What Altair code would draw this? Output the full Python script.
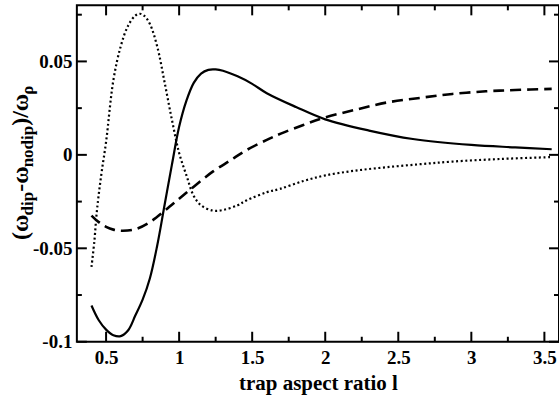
import altair as alt
import pandas as pd

# Frequency shift of the three modes versus trap aspect ratio
solid_x = [0.40, 0.45, 0.50, 0.55, 0.60, 0.65, 0.70, 0.75, 0.80, 0.85, 0.90, 0.95,
           1.00, 1.05, 1.10, 1.15, 1.20, 1.25, 1.30, 1.40, 1.50, 1.60, 1.80, 2.00,
           2.30, 2.60, 3.00, 3.30, 3.55]
solid_y = [-0.0806, -0.0885, -0.0935, -0.0965, -0.0970, -0.0940, -0.0860, -0.0775, -0.0660, -0.0485,
           -0.0270, -0.0055, 0.0150, 0.029, 0.0385, 0.0435, 0.0455, 0.0457, 0.0450, 0.042,
           0.038, 0.033, 0.0256, 0.019, 0.013, 0.0085, 0.0053, 0.004, 0.003]

dashed_x = [0.40, 0.45, 0.50, 0.55, 0.61, 0.70, 0.80, 0.90, 1.00, 1.10, 1.23, 1.35,
            1.46, 1.60, 1.70, 1.85, 1.98, 2.20, 2.42, 2.65, 2.87, 3.10, 3.30, 3.55]
dashed_y = [-0.0325, -0.036, -0.0385, -0.040, -0.0406, -0.0398, -0.036, -0.030, -0.0235,
            -0.017, -0.009, -0.003, 0.0025, 0.008, 0.0115, 0.016, 0.0196, 0.024, 0.028,
            0.0305, 0.0326, 0.034, 0.0347, 0.0353]

dotted_x = [0.40, 0.42, 0.434, 0.45, 0.47, 0.50, 0.55, 0.60, 0.65, 0.70, 0.73, 0.76,
            0.80, 0.85, 0.90, 0.95, 1.00, 1.05, 1.10, 1.15, 1.23, 1.30, 1.40, 1.46,
            1.60, 1.69, 1.85, 2.00, 2.20, 2.42, 2.65, 2.87, 3.20, 3.55]
dotted_y = [-0.060, -0.046, -0.0325, -0.021, -0.009, 0.007, 0.040, 0.058, 0.069, 0.0745,
            0.0755, 0.0745, 0.070, 0.058, 0.039, 0.019, 0.001, -0.011, -0.022, -0.027,
            -0.0298, -0.0295, -0.027, -0.0244, -0.020, -0.0182, -0.014, -0.011, -0.0085,
            -0.0066, -0.005, -0.0036, -0.0022, -0.0012]

# Axis ticks
x_major = [0.5, 1.0, 1.5, 2.0, 2.5, 3.0, 3.5]
x_minor = [0.75, 1.25, 1.75, 2.25, 2.75, 3.25]
y_major = [-0.1, -0.05, 0.0, 0.05]
y_minor = [-0.075, -0.025, 0.025, 0.075]

W, H = 483, 337
FONT = "Liberation Serif"
MAJOR, MINOR = 10, 5

xscale = alt.Scale(domain=[0.3, 3.6], nice=False, zero=False)
yscale = alt.Scale(domain=[-0.1, 0.08], nice=False, zero=False)

fmt = "replace(format(datum.value, '~g'), '\u2212', '-')"

x_axis = alt.Axis(values=x_major, ticks=False, domain=False, grid=False,
                  labelFont=FONT, labelFontSize=19, labelFontWeight="bold",
                  labelColor="black", labelPadding=7, labelExpr=fmt,
                  title="trap aspect ratio l", titleFont=FONT, titleFontSize=21,
                  titleFontWeight="bold", titleColor="black", titlePadding=5)
y_axis = alt.Axis(values=y_major, ticks=False, domain=False, grid=False,
                  labelFont=FONT, labelFontSize=19, labelFontWeight="bold",
                  labelColor="black", labelPadding=5, labelExpr=fmt, title=" ")

X = lambda f: alt.X(f, scale=xscale, axis=x_axis)
Y = lambda f: alt.Y(f, scale=yscale, axis=y_axis)


def curve(xs, ys, dash, width):
    df = pd.DataFrame({"x": xs, "y": ys})
    kw = {"strokeDash": dash} if dash else {}
    return alt.Chart(df).mark_line(color="black", strokeWidth=width,
                                   interpolate="catmull-rom", strokeCap="butt", **kw).encode(
        x=X("x:Q"), y=Y("y:Q"))


def xticks(vals, length):
    df = pd.DataFrame({"v": vals})
    base = alt.Chart(df).mark_rule(color="black", strokeWidth=2)
    bottom = base.encode(x=X("v:Q"), y=alt.value(H), y2=alt.value(H - length))
    top = base.encode(x=X("v:Q"), y=alt.value(0), y2=alt.value(length))
    return [bottom, top]


def yticks(vals, length):
    df = pd.DataFrame({"v": vals})
    base = alt.Chart(df).mark_rule(color="black", strokeWidth=2)
    left = base.encode(y=Y("v:Q"), x=alt.value(0), x2=alt.value(length))
    right = base.encode(y=Y("v:Q"), x=alt.value(W), x2=alt.value(W - length))
    return [left, right]


# Rotated y title with subscripts, laid out piece by piece from the bottom up
char_w = {"(": 0.333, ")": 0.333, "/": 0.278, "-": 0.333, "ω": 0.69, "ρ": 0.55,
          "d": 0.556, "i": 0.278, "p": 0.556, "n": 0.556, "o": 0.5}
pieces = [("(ω", False), ("dip", True), ("-ω", False), ("nodip", True), (")/ω", False), ("ρ", True)]
MAIN_SIZE, SUB_SIZE = 24, 17
pos = 235.0
title_layers = []
for txt, is_sub in pieces:
    size = SUB_SIZE if is_sub else MAIN_SIZE
    xpos = -44 if is_sub else -49
    title_layers.append(
        alt.Chart(pd.DataFrame({"t": [txt]})).mark_text(
            angle=270, align="left", baseline="alphabetic", font=FONT,
            fontSize=size, fontWeight="bold", color="black"
        ).encode(x=alt.value(xpos), y=alt.value(pos), text="t:N")
    )
    pos -= sum(char_w[c] for c in txt) * size

layers = [
    curve(solid_x, solid_y, None, 2.2),
    curve(dashed_x, dashed_y, [11, 6], 2.6),
    curve(dotted_x, dotted_y, [2, 2.6], 2.2),
]
layers += xticks(x_major, MAJOR) + xticks(x_minor, MINOR)
layers += yticks(y_major, MAJOR) + yticks(y_minor, MINOR)
layers += title_layers

chart = alt.layer(*layers).properties(
    width=W, height=H,
    autosize=alt.AutoSizeParams(type="none"),
    padding={"left": 77, "top": 5, "right": 0, "bottom": 61},
    background="white",
).configure_view(stroke="black", strokeWidth=2)

chart.save("out.html", embed_options={"renderer": "svg", "actions": False})
